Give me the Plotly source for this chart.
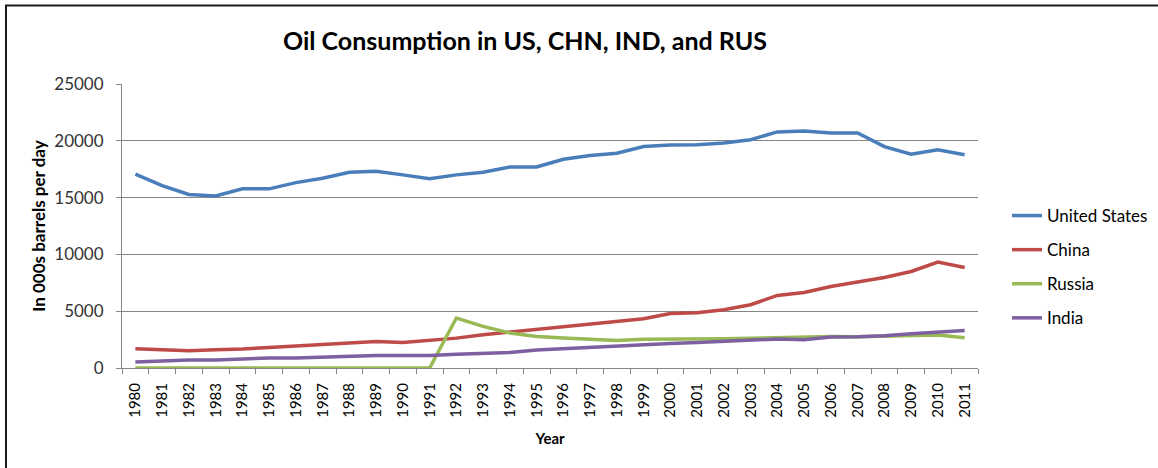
import plotly.graph_objects as go

years = [str(y) for y in range(1980, 2012)]
united_states = [17060, 16060, 15270, 15150, 15770, 15770, 16320, 16700, 17230, 17320,
                 17000, 16670, 17000, 17230, 17700, 17700, 18380, 18700, 18900, 19490,
                 19640, 19660, 19810, 20100, 20780, 20870, 20690, 20690, 19490, 18820,
                 19200, 18780]
china = [1700, 1610, 1520, 1610, 1670, 1810, 1960, 2050, 2200, 2340,
         2250, 2430, 2630, 2930, 3160, 3340, 3570, 3830, 4070, 4330,
         4800, 4860, 5130, 5570, 6390, 6650, 7180, 7560, 7970, 8500,
         9320, 8850]
russia = [0, 0, 0, 0, 0, 0, 0, 0, 0, 0,
          0, 0, 4400, 3660, 3080, 2780, 2640, 2520, 2430, 2520,
          2520, 2520, 2580, 2610, 2660, 2720, 2780, 2750, 2810, 2870,
          2900, 2660]
india = [530, 620, 700, 700, 790, 880, 880, 970, 1020, 1110,
         1110, 1110, 1200, 1280, 1370, 1580, 1700, 1850, 1960, 2080,
         2160, 2250, 2340, 2430, 2550, 2490, 2720, 2750, 2840, 3020,
         3190, 3300]

series = [("United States", united_states, "#4A7EBB"),
          ("China", china, "#BE4B48"),
          ("Russia", russia, "#98B954"),
          ("India", india, "#7D60A0")]

FONT = "Lato"

fig = go.Figure()
for name, vals, color in series:
    fig.add_trace(go.Scatter(x=years, y=vals, name=name, mode="lines",
                             legendgroup=name,
                             line=dict(color=color, width=3.5)))

W, H = 1158, 468
L, R, T, B = 122, 180, 84, 100
pw, ph = W - L - R, H - T - B


def px(x):
    return (x - L) / pw


def py(y):
    return (H - B - y) / ph


fig.update_layout(
    width=W, height=H,
    margin=dict(l=L, r=R, t=T, b=B, autoexpand=False),
    paper_bgcolor="white", plot_bgcolor="white",
    font=dict(family=FONT, color="#000000"),
    title=dict(text="<b>Oil Consumption in US, CHN, IND, and RUS</b>",
               x=525 / W, xanchor="center", y=1 - 41 / H, yanchor="middle",
               font=dict(size=25, family=FONT, color="#000000")),
    showlegend=True,
    legend=dict(x=px(1007), xanchor="left", y=py(198), yanchor="top",
                font=dict(size=17, family=FONT, color="#000000"),
                tracegroupgap=9, bgcolor="rgba(0,0,0,0)"),
    xaxis=dict(type="category", range=[-0.5, len(years) - 0.5],
               tickangle=-90, showgrid=False,
               showline=True, linecolor="#868686", linewidth=1,
               ticks="outside", ticklen=5, tickcolor="#868686",
               tickson="boundaries", ticklabelstandoff=8,
               tickfont=dict(size=15, family=FONT, color="#000000"),
               title=dict(text="<b>Year</b>", standoff=16,
                          font=dict(size=15, family=FONT, color="#000000"))),
    yaxis=dict(range=[0, 25000], tickvals=[0, 5000, 10000, 15000, 20000, 25000],
               ticktext=["0", "5000", "10000", "15000", "20000", "25000"],
               showgrid=True, gridcolor="#868686", gridwidth=1,
               showline=True, linecolor="#868686", linewidth=1,
               ticks="outside", ticklen=5, tickcolor="#868686",
               zeroline=False, ticklabelstandoff=9,
               tickfont=dict(size=17, family=FONT, color="#333333"),
               title=dict(text="<b>In 000s barrels per day</b>", standoff=4,
                          font=dict(size=17, family=FONT, color="#000000"))),
    shapes=[dict(type="rect", xref="paper", yref="paper",
                 x0=px(6), x1=px(1175), y0=py(490), y1=py(5.5),
                 line=dict(color="#1a1a1a", width=2), fillcolor="rgba(0,0,0,0)",
                 layer="above")],
)

fig.write_html("out.html", config={"displayModeBar": False},
               post_script="document.body.style.margin='0';document.body.style.padding='0';")
